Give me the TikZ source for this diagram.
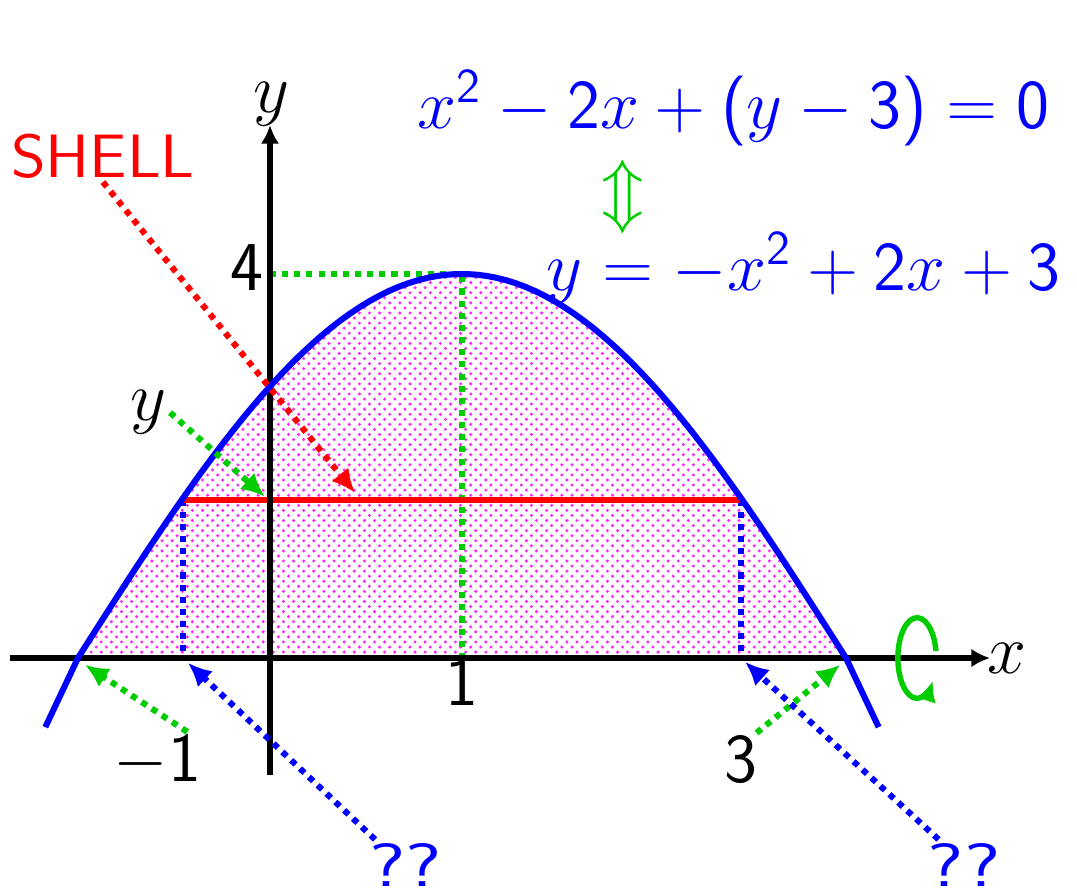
\documentclass[tikz,border=0pt]{standalone}
\usepackage{amsmath,amssymb}
\usepackage{tikz}
\usetikzlibrary{patterns,arrows.meta}
% sans serif digits in math, beamer like
\DeclareSymbolFont{operators}{OT1}{cmss}{m}{n}
\definecolor{grn}{rgb}{0,0.8,0}

\begin{document}
\begin{tikzpicture}[x=2cm,y=1cm,
    axis/.style={line width=1.5pt,-{Latex[length=5.5pt,width=5.5pt]}},
    dotline/.style={line width=1.8pt,dash pattern=on 1.8pt off 1.8pt},
    tip/.style={-{Latex[length=7pt,width=6.5pt]}},
    lbl/.style={font=\huge,inner sep=1pt},
    eqn/.style={font=\fontsize{21.8}{26}\selectfont,inner sep=1pt,blue}]
    \useasboundingbox (-1.406,-2.469) rectangle (4.203,6.854);

    % region under the curve
    \fill[magenta!10,pattern=crosshatch dots,pattern color=magenta!85]
      plot[domain=-1:3,samples=80] (\x,{4*cos(45*(\x-1))}) -- cycle;

    % helper lines
    \draw[grn,dotline] (0,4) -- (1,4) -- (1,0);
    \draw[blue,dotline] (-0.453,1.65) -- (-0.453,0);
    \draw[blue,dotline] (2.453,1.65) -- (2.453,0);
    \draw[red,line width=1.8pt] (-0.453,1.65) -- (2.453,1.65);

    % axes
    \draw[axis] (-1.354,0) -- (3.75,0);
    \draw[axis] (0,-1.22) -- (0,5.55);
    \node[lbl,anchor=base] (xlab) at (3.84,-0.16) {$x$};
    \node[lbl,anchor=base] (ylab) at (0.01,5.68) {$y$};

    % the curve
    \draw[blue,line width=1.8pt] (-1.17,-0.72) --
      plot[domain=-1:3,samples=80] (\x,{4*cos(45*(\x-1))}) -- (3.17,-0.72);

    % rotation about the x axis
    \coordinate (rotc) at (3.37,0);
    \draw[grn,line width=1.6pt,-{Latex[length=6pt,width=6pt]}]
      ([shift={(10:0.2cm and 0.42cm)}]rotc)
      arc[start angle=10,end angle=325,x radius=0.2cm,y radius=0.42cm];

    % tick labels
    \node[lbl,anchor=base] (n4) at (-0.122,3.83) {$4$};
    \node[lbl,anchor=base] (n1) at (1.0,-0.49) {$1$};
    \node[lbl,anchor=base] (m1) at (-0.586,-1.29) {$-1$};
    \node[lbl,anchor=base] (n3) at (2.453,-1.30) {$3$};

    % equations
    \node[eqn,anchor=base] (eqa) at (2.414,5.52)
      {$x^2-2x+(y-3)=0$};
    \node[lbl,grn] (equiv) at (1.84,4.8) {$\Updownarrow$};
    \node[eqn,anchor=base west] (eqb) at (1.42,3.83)
      {$y=-x^2+2x+3$};

    % pointers
    \node[lbl,red,font=\LARGE,anchor=base] (shell) at (-0.87,5.01)
      {\scalebox{1.14}[1.05]{\textsf{SHELL}}};
    \node[lbl,anchor=base] (yval) at (-0.635,2.47) {$y$};
    \node[lbl,blue,font=\LARGE,anchor=base] (qa) at (0.706,-2.38)
      {\scalebox{1.4}[1.05]{\textsf{??}}};
    \node[lbl,blue,font=\LARGE,anchor=base] (qb) at (3.615,-2.38)
      {\scalebox{1.4}[1.05]{\textsf{??}}};

    \coordinate (shellend) at (0.443,1.72);
    \coordinate (yend) at (-0.026,1.68);
    \coordinate (rootl) at (-0.964,-0.07);
    \coordinate (rootr) at (2.97,-0.07);
    \coordinate (shl) at (-0.427,-0.05);
    \coordinate (shr) at (2.474,-0.04);

    \draw[red,dotline,tip] (shell.south) -- (shellend);
    \draw[grn,dotline,tip] (yval.east) -- (yend);
    \draw[grn,dotline,tip] (m1.45) -- (rootl);
    \draw[grn,dotline,tip] (n3.60) -- (rootr);
    \draw[blue,dotline,tip] (qa.140) -- (shl);
    \draw[blue,dotline,tip] (qb.135) -- (shr);
  \end{tikzpicture}
\end{document}
